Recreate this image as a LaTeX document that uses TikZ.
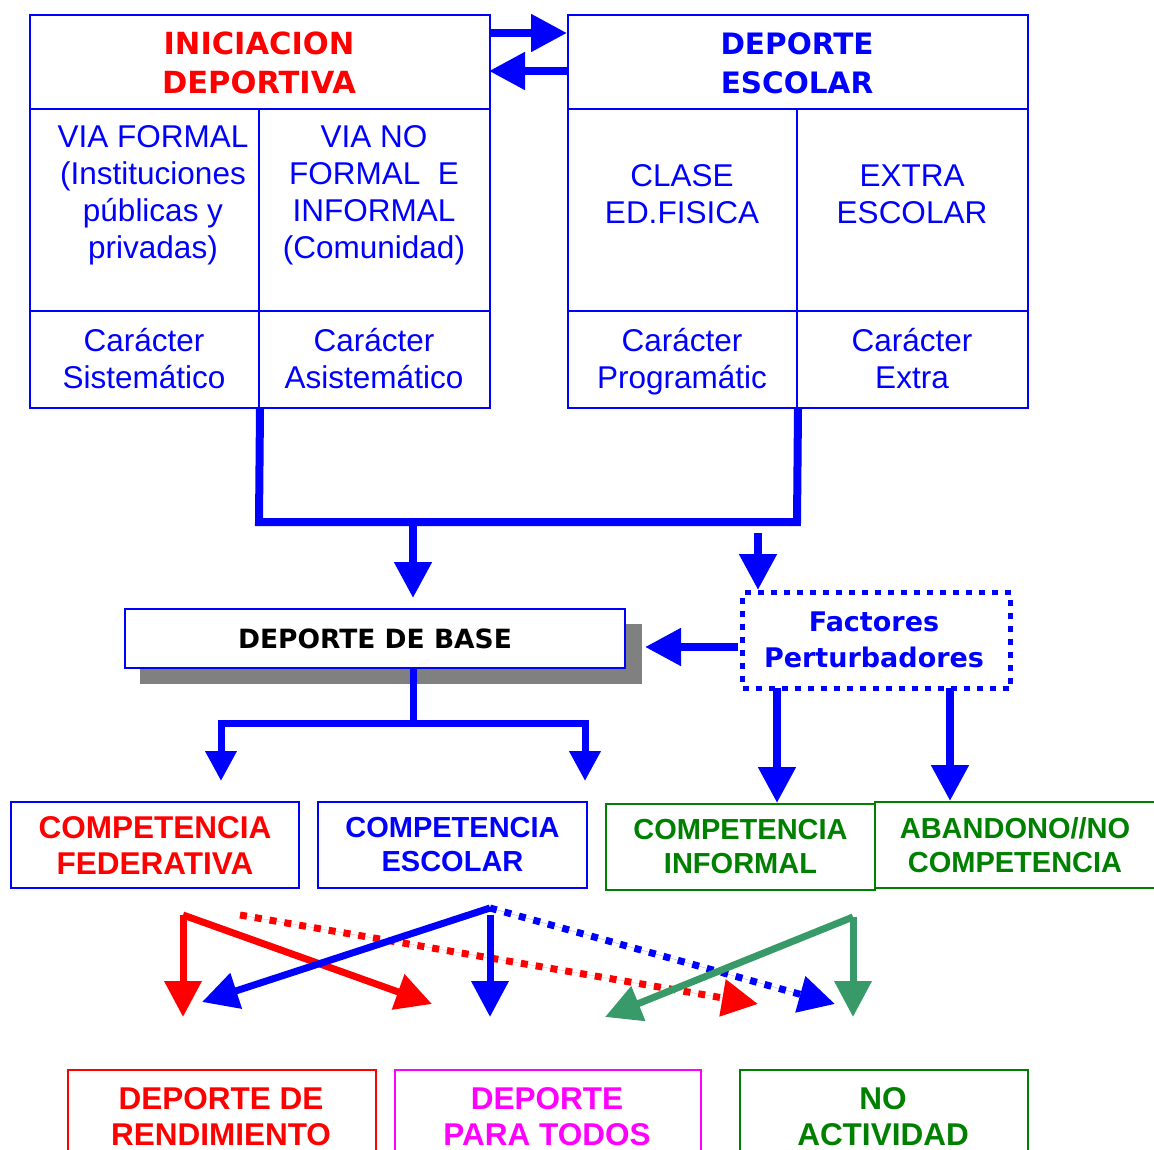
\documentclass[tikz,border=0pt]{standalone}
\usepackage{fontspec}
\setmainfont{Liberation Sans}
\newfontfamily\tah{DejaVu Sans}
\usetikzlibrary{arrows.meta}
\definecolor{bl}{RGB}{0,0,255}
\definecolor{rd}{RGB}{255,0,0}
\definecolor{gr}{RGB}{0,128,0}
\definecolor{mg}{RGB}{255,0,255}
\definecolor{sg}{RGB}{56,154,104}
\definecolor{shad}{RGB}{128,128,128}
\begin{document}
\begin{tikzpicture}[x=1pt,y=-1pt,
  box/.style={draw=bl, line width=2pt, inner sep=0pt, anchor=north west},
  txt/.style={align=center, inner sep=0pt, text=bl, font=\fontsize{31.5}{37}\selectfont},
  hdr/.style={align=center, inner sep=0pt, font=\tah\bfseries\fontsize{29.5}{39}\selectfont},
  cbox/.style={box, align=center, font=\bfseries\fontsize{29}{34}\selectfont},
  conn/.style={draw=bl, line width=8pt},
  arr/.style={conn, -{Triangle[length=36pt,width=36pt]}},
  sarr/.style={draw=bl, line width=7pt, -{Triangle[length=30pt,width=30pt]}},
  barr/.style={line width=7pt, -{Triangle[length=36pt,width=36pt]}},
  dots/.style={dash pattern=on 7pt off 8pt}
]
\useasboundingbox (0,0) rectangle (1154,1150);
\clip (0,0) rectangle (1154,1150);

% ---- top left box
\node[box, minimum width=460pt, minimum height=393pt] (ini) at (29,14) {};
\draw[bl, line width=2pt] (29,109) -- (489,109) (29,311) -- (489,311) (259,109) -- (259,407);
\node[hdr, text=rd, font=\tah\bfseries\fontsize{30.5}{39}\selectfont] (tini) at (259,63) {INICIACION\\DEPORTIVA};
\node[txt] (vf) at (153,195) {VIA FORMAL\\(Instituciones\\públicas y\\privadas)};
\node[txt] (vnf) at (374,195) {VIA NO\\FORMAL\ \ E\\INFORMAL\\(Comunidad)};
\node[txt] (cs) at (144,359) {Carácter\\Sistemático};
\node[txt] (ca) at (374,359) {Carácter\\Asistemático};

% ---- top right box
\node[box, minimum width=460pt, minimum height=393pt] (esc) at (567,14) {};
\draw[bl, line width=2pt] (567,109) -- (1027,109) (567,311) -- (1027,311) (797,109) -- (797,407);
\node[hdr, text=bl] (tesc) at (797,63) {DEPORTE\\ESCOLAR};
\node[txt] (cl) at (682,194) {CLASE\\ED.FISICA};
\node[txt] (ex) at (912,194) {EXTRA\\ESCOLAR};
\node[txt] (cp) at (682,362) {Carácter\\Programátic};
\node[txt] (ce2) at (912,359) {Carácter\\Extra};

% ---- arrows between top boxes
\coordinate (a1s) at (489,33); \coordinate (a1e) at (567,33);
\coordinate (a2s) at (567,71); \coordinate (a2e) at (489,71);
\draw[arr] (a1s) -- (a1e);
\draw[arr] (a2s) -- (a2e);

% ---- join
\coordinate (jl) at (259,522); \coordinate (jr) at (797,522);
\draw[conn] (ini.south) -- (jl) -- (jr) -- (esc.south);

% ---- deporte de base
\fill[shad] (140,624) rectangle (642,684);
\node[box, fill=white, minimum width=500pt, minimum height=59pt,
      font=\tah\bfseries\fontsize{26.5}{30}\selectfont] (base) at (124,608) {DEPORTE DE BASE};
\coordinate (m1) at (413,522); \coordinate (m1e) at (413,598);
\draw[arr] (m1) -- (m1e);

% ---- factores
\node[box, line width=5pt, dash pattern=on 6pt off 7pt, minimum width=268pt, minimum height=96pt] (fac) at (740,590) {};
\node[align=center, inner sep=0pt, text=bl, font=\tah\bfseries\fontsize{27}{36}\selectfont] (tfac) at (874,640) {Factores\\Perturbadores};
\coordinate (fs) at (758,533);
\draw[arr] (fs) -- (fs |- fac.north);
\coordinate (fw) at (738,647); \coordinate (fwe) at (645,647);
\draw[arr] (fw) -- (fwe);

% ---- competencia boxes
\node[cbox, text=rd, minimum width=288pt, minimum height=86pt, font=\bfseries\fontsize{31.5}{36}\selectfont] (cf) at (10,801) {COMPETENCIA\\FEDERATIVA};
\node[cbox, text=bl, minimum width=269pt, minimum height=86pt] (ces) at (317,801) {COMPETENCIA\\ESCOLAR};
\node[cbox, draw=gr, text=gr, minimum width=269pt, minimum height=86pt] (ci) at (605,803) {COMPETENCIA\\INFORMAL};
\node[cbox, draw=gr, text=gr, minimum width=290pt, minimum height=86pt] (ab) at (874,801) {\hspace*{-10pt}ABANDONO//NO\\\hspace*{-10pt}COMPETENCIA};

% ---- base to competencias
\coordinate (b1) at (413,723); \coordinate (bl1) at (221,723); \coordinate (br1) at (585,723);
\coordinate (bl2) at (221,781); \coordinate (br2) at (585,781);
\draw[draw=bl, line width=7pt] (base.south -| b1) -- (b1);
\draw[sarr] (b1) -- (bl1) -- (bl2);
\draw[sarr] (b1) -- (br1) -- (br2);

% ---- factores to competencias
\coordinate (f1) at (777,688); \coordinate (f2) at (950,688);
\draw[arr] (f1) -- (f1 |- ci.north);
\draw[arr] (f2) -- (f2 |- ab.north);

% ---- bottom boxes
\node[box, draw=rd, minimum width=308pt, minimum height=120pt] (dr) at (67,1069) {};
\node[box, draw=mg, minimum width=306pt, minimum height=120pt] (dp) at (394,1069) {};
\node[box, draw=gr, minimum width=288pt, minimum height=120pt] (na) at (739,1069) {};
\node[align=center, inner sep=0pt, text=rd, font=\bfseries\fontsize{31.5}{36}\selectfont] (tdr) at (221,1117) {DEPORTE DE\\RENDIMIENTO};
\node[align=center, inner sep=0pt, text=mg, font=\bfseries\fontsize{31.5}{36}\selectfont] (tdp) at (547,1117) {DEPORTE\\PARA TODOS};
\node[align=center, inner sep=0pt, text=gr, font=\bfseries\fontsize{31.5}{36}\selectfont] (tna) at (883,1117) {NO\\ACTIVIDAD};

% ---- crossing arrows
\coordinate (rs) at (183,915); \coordinate (rds) at (240,915);
\coordinate (bs) at (490,908); \coordinate (gs) at (853,917);
\coordinate (rt1) at (183,1017); \coordinate (rt2) at (432,1004); \coordinate (rt3) at (758,1004);
\coordinate (bt1) at (202,1002); \coordinate (bt2) at (490,1017); \coordinate (bt3) at (835,1004);
\coordinate (gt1) at (853,1017); \coordinate (gt2) at (605,1017);
\draw[barr, draw=rd, fill=rd, dots] (rds) -- (rt3);
\draw[barr, draw=rd, fill=rd] (rs) -- (rt1);
\draw[barr, draw=rd, fill=rd] (rs) -- (rt2);
\draw[barr, draw=bl, fill=bl] (bs) -- (bt1);
\draw[barr, draw=bl, fill=bl] (bs |- 0,915) -- (bt2);
\draw[barr, draw=bl, fill=bl, dots] (bs) -- (bt3);
\draw[barr, draw=sg, fill=sg] (gs) -- (gt1);
\draw[barr, draw=sg, fill=sg] (gs) -- (gt2);
\end{tikzpicture}
\end{document}
